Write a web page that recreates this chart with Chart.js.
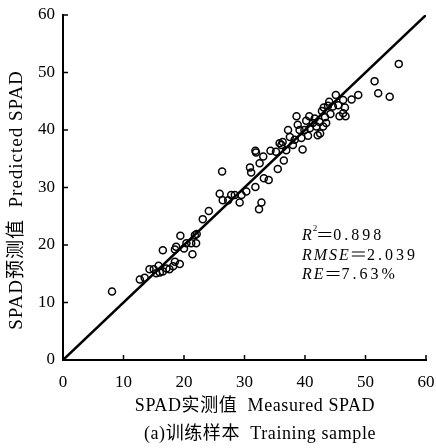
<!DOCTYPE html>
<html>
<head>
<meta charset="utf-8">
<script src="https://cdn.jsdelivr.net/npm/chart.js@4.4.0/dist/chart.umd.min.js"></script>
<style>
  html, body { margin: 0; padding: 0; background: #fff; }
  #wrap { width: 436px; height: 448px; }
</style>
</head>
<body>
<div id="wrap"><canvas id="c" width="436" height="448"></canvas></div>
<script>
// measured (x) vs predicted (y) SPAD, training sample
const measured = [8.1, 12.7, 13.5, 14.3, 15.0, 15.4, 16.0, 16.5, 16.5, 17.1, 17.6, 18.2, 18.5, 18.5, 18.7,
  19.3, 19.4, 20.0, 20.4, 21.2, 21.4, 21.8, 22.0, 22.1, 23.1, 24.1, 25.9, 26.3, 26.4, 27.3,
  27.8, 28.4, 29.2, 29.5, 30.3, 30.9, 31.1, 31.8, 31.8, 31.9, 32.4, 32.5, 32.8, 33.1, 33.2,
  34.0, 34.3, 35.2, 35.5, 35.8, 36.1, 36.5, 36.9, 37.2, 37.5, 38.0, 38.3, 38.6, 38.8, 39.1,
  39.4, 39.6, 39.9, 40.5, 40.7, 40.8, 41.3, 41.6, 41.9, 42.1, 42.4, 42.5, 43.0, 43.1, 43.3,
  43.5, 43.8, 44.2, 44.6, 45.1, 45.5, 45.7, 46.3, 46.3, 46.6, 46.7, 47.7, 48.8, 51.5, 52.1,
  54.0, 55.5, 15.8, 36.3, 40.2, 42.8, 44.0];
const predicted = [11.9, 14.0, 14.3, 15.8, 15.8, 15.1, 15.2, 19.1, 15.4, 15.9, 15.8, 16.3, 17.1, 19.2, 19.7,
  16.7, 21.6, 19.4, 20.3, 20.3, 18.4, 21.7, 20.3, 21.9, 24.5, 25.9, 28.9, 32.8, 27.8, 27.8,
  28.7, 28.7, 27.4, 28.7, 29.3, 33.5, 32.6, 30.1, 36.4, 36.1, 26.2, 34.2, 27.4, 35.4, 31.6,
  31.3, 36.4, 36.2, 33.2, 37.7, 37.4, 34.7, 36.5, 40.0, 38.8, 37.4, 38.3, 42.4, 40.9, 40.0,
  38.6, 36.6, 40.0, 39.0, 42.4, 40.3, 41.2, 42.0, 40.6, 39.1, 41.4, 39.4, 40.6, 43.9, 42.2,
  41.2, 44.2, 42.8, 44.1, 46.1, 44.3, 42.4, 45.2, 42.9, 43.9, 42.4, 45.3, 46.1, 48.5, 46.4,
  45.8, 51.5, 16.4, 37.9, 41.6, 43.3, 44.9];
const refLine = [0, 60];
const axisTicks = [0, 10, 20, 30, 40, 50, 60];
const stats = [['R', '2', '0.898'], ['RMSE', '', '2.039'], ['RE', '', '7.63%']];

const serif = '"Liberation Serif", "Times New Roman", "Noto Sans CJK SC", serif';

const points = measured.map((v, i) => ({ x: v, y: predicted[i] }));
const linePts = refLine.map(v => ({ x: v, y: v }));

// inward ticks, axis titles and statistics text
const decor = {
  id: 'decor',
  afterDraw(chart) {
    const ctx = chart.ctx;
    const xs = chart.scales.x, ys = chart.scales.y;
    const a = chart.chartArea;
    ctx.save();
    ctx.strokeStyle = '#000';
    ctx.lineWidth = 1.5;
    ctx.beginPath();
    axisTicks.forEach(t => {
      const px = xs.getPixelForValue(t);
      ctx.moveTo(px, a.bottom); ctx.lineTo(px, a.bottom - 5);
      const py = ys.getPixelForValue(t);
      ctx.moveTo(a.left, py); ctx.lineTo(a.left + 5, py);
    });
    ctx.stroke();

    ctx.fillStyle = '#000';
    ctx.font = '18px ' + serif;
    ctx.letterSpacing = '0.6px';
    ctx.textAlign = 'center';
    ctx.textBaseline = 'middle';
    ctx.fillText('SPAD实测值  Measured SPAD', 255, 406);
    ctx.fillText('(a)训练样本  Training sample', 260, 434);

    ctx.save();
    ctx.translate(17, 200);
    ctx.rotate(-Math.PI / 2);
    ctx.font = '19px ' + serif;
    ctx.letterSpacing = '1px';
    ctx.fillText('SPAD预测值  Predicted SPAD', 0, 0);
    ctx.restore();

    ctx.textAlign = 'left';
    ctx.textBaseline = 'alphabetic';
    let y0 = 240;
    stats.forEach(([name, sup, rest]) => {
      let x = 302;
      ctx.letterSpacing = '2px';
      ctx.font = 'italic 16px ' + serif;
      ctx.fillText(name, x, y0);
      x += ctx.measureText(name).width;
      if (sup) {
        ctx.letterSpacing = '0px';
        ctx.font = '9px ' + serif;
        ctx.fillText(sup, x - 1, y0 - 9);
        x += ctx.measureText(sup).width - 1;
      }
      // wide equals sign
      ctx.lineWidth = 1;
      ctx.beginPath();
      ctx.moveTo(x + 1, y0 - 7.5); ctx.lineTo(x + 14, y0 - 7.5);
      ctx.moveTo(x + 1, y0 - 3.5); ctx.lineTo(x + 14, y0 - 3.5);
      ctx.stroke();
      x += 16;
      ctx.font = '16px ' + serif;
      ctx.letterSpacing = '3px';
      ctx.fillText(rest, x, y0);
      y0 += 19.5;
    });
    ctx.restore();
  }
};

new Chart(document.getElementById('c'), {
  data: {
    datasets: [
      {
        type: 'scatter',
        data: points,
        pointStyle: 'circle',
        pointRadius: 3.5,
        pointBorderWidth: 1.5,
        pointBackgroundColor: 'rgba(255,255,255,0)',
        pointBorderColor: '#000'
      },
      {
        type: 'line',
        data: linePts,
        borderColor: '#000',
        borderWidth: 2.5,
        pointRadius: 0,
        fill: false
      }
    ]
  },
  options: {
    responsive: false,
    animation: false,
    layout: { padding: { left: 0, right: 10, top: 15, bottom: 0 } },
    plugins: { legend: { display: false }, tooltip: { enabled: false } },
    scales: {
      x: {
        type: 'linear', min: 0, max: 60,
        afterFit: s => { s.height = 88; s.paddingLeft = 0; s.paddingRight = 0; },
        afterBuildTicks: s => { s.ticks = axisTicks.map(v => ({ value: v })); },
        border: { display: true, color: '#000', width: 2 },
        grid: { display: false, drawTicks: false },
        ticks: { color: '#000', padding: 12, font: { family: serif, size: 17 } }
      },
      y: {
        type: 'linear', min: 0, max: 60,
        afterFit: s => { s.width = 63; s.paddingTop = 0; s.paddingBottom = 0; },
        afterBuildTicks: s => { s.ticks = axisTicks.map(v => ({ value: v })); },
        border: { display: true, color: '#000', width: 2 },
        grid: { display: false, drawTicks: false },
        ticks: { color: '#000', padding: 8, font: { family: serif, size: 17 } }
      }
    }
  },
  plugins: [decor]
});
</script>
</body>
</html>
